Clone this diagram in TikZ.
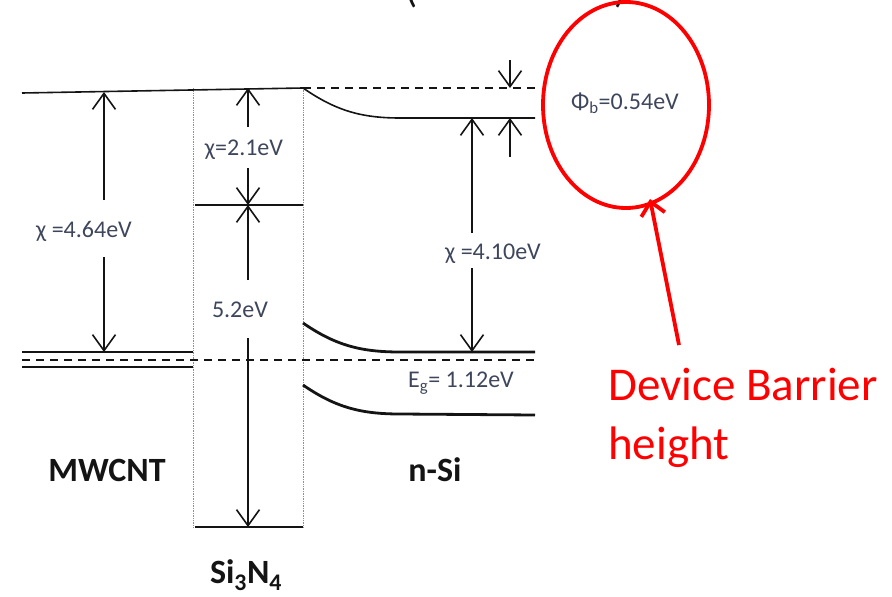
\documentclass[tikz,border=0pt]{standalone}
\usepackage{fontspec}
\setmainfont{Carlito}
\usetikzlibrary{arrows.meta,shapes.geometric}
\definecolor{lbl}{RGB}{62,70,92}
\definecolor{dotblue}{RGB}{110,150,200}
\definecolor{ink}{RGB}{20,20,20}
\tikzset{
  arr/.style={draw=ink, line width=1.6pt, -{Straight Barb[length=16pt,width=23pt,line width=1.6pt]}},
  level/.style={draw=ink, line width=2.8pt},
  thinlevel/.style={draw=ink, line width=1.6pt},
  fermi/.style={draw=ink, line width=1.6pt, dash pattern=on 8pt off 6pt},
  guide/.style={draw=dotblue, line width=0.7pt, densely dotted},
  small/.style={text=lbl, font=\fontsize{24}{28}\selectfont, inner sep=0pt},
  big/.style={text=ink, font=\bfseries\fontsize{34}{40}\selectfont, inner sep=0pt},
  redtxt/.style={text=red, font=\fontsize{47}{57}\selectfont, inner sep=0pt, align=left, anchor=north west},
}
\begin{document}
\begin{tikzpicture}[x=1pt,y=-1pt]
\clip (0,0) rectangle (892,597);
\useasboundingbox (0,0) rectangle (892,597);
% cut-off title glyphs
\node[font=\fontsize{40}{48}\selectfont, anchor=base, text=ink, inner sep=0pt] (pl) at (412,2) {(};
\node[font=\fontsize{40}{48}\selectfont, anchor=base, text=ink, inner sep=0pt] (pr) at (621,2) {)};
% guides of the Si3N4 layer
\coordinate (gl1) at (193,88); \coordinate (gl2) at (193,527);
\coordinate (gr1) at (303,88); \coordinate (gr2) at (303,527);
\draw[guide] (gl1) -- (gl2);
\draw[guide] (gr1) -- (gr2);
% vacuum level
\coordinate (vac0) at (22,93); \coordinate (vac1) at (303,88); \coordinate (vac2) at (535,88);
\draw[thinlevel] (vac0) -- (vac1);
\draw[fermi] (vac1) -- (vac2);
% MWCNT Fermi level
\coordinate (m1a) at (22,352); \coordinate (m1b) at (193,352);
\coordinate (m2a) at (22,367); \coordinate (m2b) at (193,367);
\coordinate (fa) at (22,360); \coordinate (fb) at (535,360);
\draw[level] (m1a) -- (m1b);
\draw[level] (m2a) -- (m2b);
\draw[fermi] (fa) -- (fb);
% Si3N4 bands
\coordinate (sc1) at (195,205); \coordinate (sc2) at (303,205);
\coordinate (sv1) at (195,527); \coordinate (sv2) at (303,527);
\draw[level] (sc1) -- (sc2);
\draw[level] (sv1) -- (sv2);
% n-Si bands
\coordinate (nc0) at (303,88); \coordinate (nc1) at (535,118);
\draw[thinlevel] (nc0) .. controls (335,110) and (360,118) .. (400,118) -- (nc1);
\coordinate (cb0) at (303,323); \coordinate (cb1) at (535,352);
\draw[level] (cb0) .. controls (335,345) and (360,352) .. (400,352) -- (cb1);
\coordinate (vb0) at (303,385); \coordinate (vb1) at (535,415);
\draw[level] (vb0) .. controls (335,407) and (360,414) .. (400,414) -- (vb1);
% chi MWCNT
\node[small] (chim) at (84,231) {χ =4.64eV};
\coordinate (chimt) at (104,92); \coordinate (chimb) at (104,352);
\coordinate (chima) at (104,200); \coordinate (chimc) at (104,257);
\draw[arr] (chima) -- (chimt);
\draw[arr] (chimc) -- (chimb);
% chi Si3N4
\node[small] (chis) at (244,150) {χ=2.1eV};
\coordinate (chist) at (248,88); \coordinate (chisb) at (248,205);
\coordinate (chisa) at (248,127); \coordinate (chisc) at (248,168);
\draw[arr] (chisa) -- (chist);
\draw[arr] (chisc) -- (chisb);
% gap Si3N4
\node[small] (gap) at (240,310) {5.2eV};
\coordinate (gapt) at (248,205); \coordinate (gapb) at (248,527);
\coordinate (gapa) at (248,280); \coordinate (gapc) at (248,338);
\draw[arr] (gapa) -- (gapt);
\draw[arr] (gapc) -- (gapb);
% chi n-Si
\node[small] (chin) at (493,254) {χ =4.10eV};
\coordinate (chint) at (472,118); \coordinate (chinb) at (472,352);
\coordinate (china) at (472,233); \coordinate (chinc) at (472,268);
\draw[arr] (china) -- (chint);
\draw[arr] (chinc) -- (chinb);
% barrier
\coordinate (pbt0) at (510,60); \coordinate (pbt1) at (510,88);
\coordinate (pbb0) at (510,157); \coordinate (pbb1) at (510,118);
\draw[arr] (pbt0) -- (pbt1);
\draw[arr] (pbb0) -- (pbb1);
\node[small] (phib) at (625,103) {Φ\textsubscript{b}=0.54eV};
% Eg
\node[small] (eg) at (461,383) {E\textsubscript{g}= 1.12eV};
% big labels
\node[big] (mw) at (107,470) {MWCNT};
\node[big] (nsi) at (435,470) {n-Si};
\node[big] (sin) at (246,575) {Si\textsubscript{3}N\textsubscript{4}};
% red annotation
\node[draw=red, line width=3.8pt, ellipse, minimum width=166pt, minimum height=206pt, inner sep=0pt] (ell) at (626,105) {};
\coordinate (rt) at (650,199);
\coordinate (rs) at (679,345);
\draw[red, line width=3.8pt, -{Straight Barb[length=13pt,width=24pt,line width=3.8pt]}] (rs) -- (rt);
\node[redtxt] (dev) at (608,368) {Device Barrier\\[2pt]height};
\end{tikzpicture}
\end{document}
